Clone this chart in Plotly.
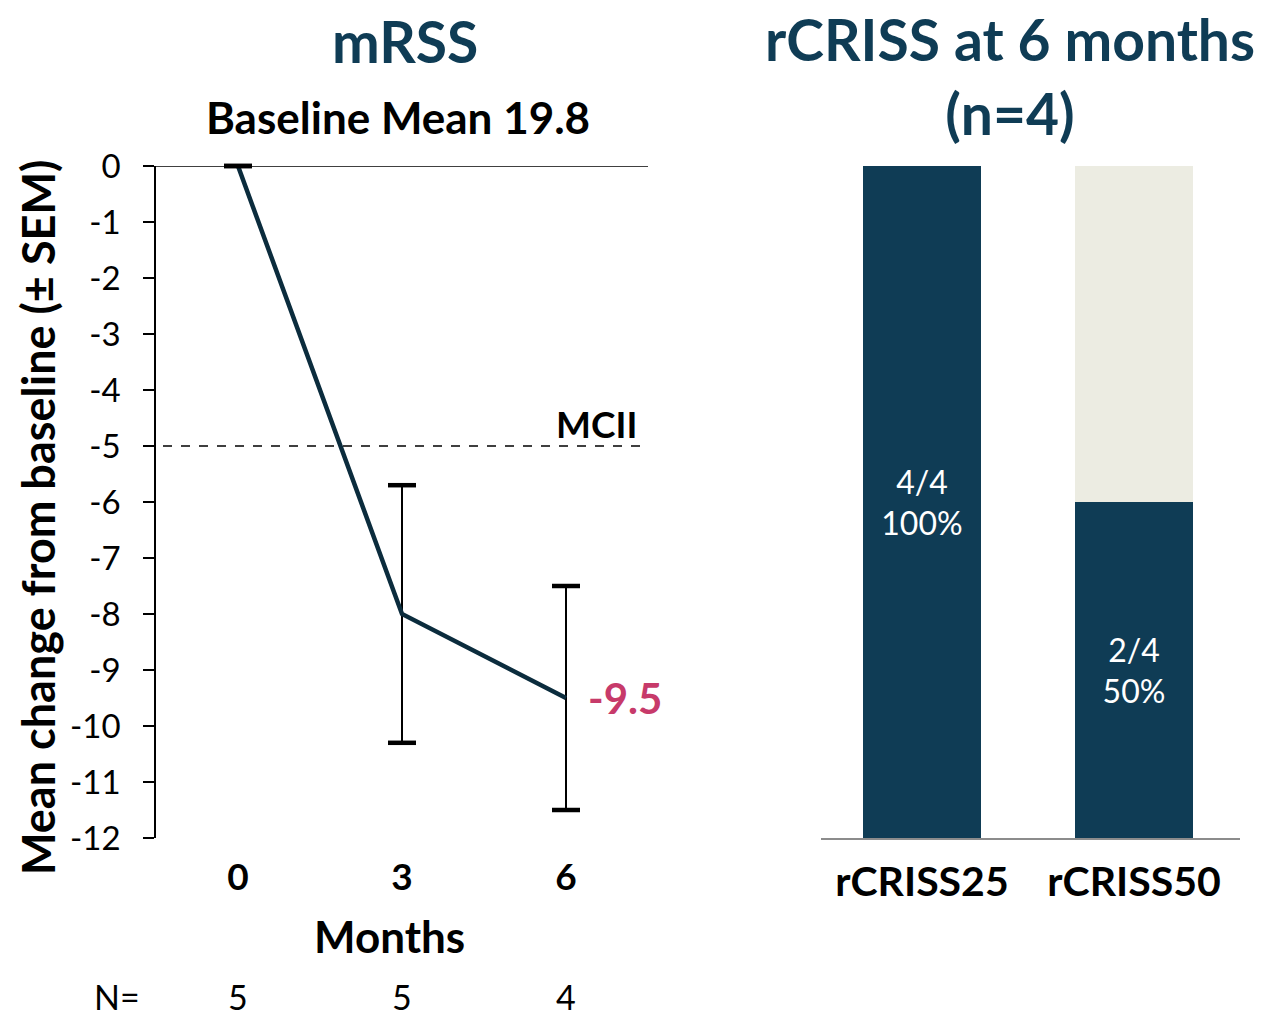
import plotly.graph_objects as go

# ---------------- data ----------------
months = [0, 3, 6]
mrss_change = [0, -8.0, -9.5]
mrss_sem = [0, 2.3, 2.0]
n_counts = ["5", "5", "4"]
mcii = -5
y_ticks = list(range(0, -13, -1))

criss_cats = ["rCRISS25", "rCRISS50"]
criss_pct = [100, 50]
criss_rest = [0, 50]
criss_labels = ["4/4<br>100%", "2/4<br>50%"]

W, H = 1266, 1011
OFF = 8  # page body margin
FONT = "Lato"
DARK = "#0F3C55"
LINE = "#0B2C3D"
PINK = "#C73A6A"

def px_x(p):
    return (p - OFF) / W

def px_y(p):
    return 1 - (p - OFF) / H

fig = go.Figure()

# left: line with error bars
fig.add_trace(go.Scatter(
    x=months, y=mrss_change, mode="lines",
    line=dict(color=LINE, width=4.5),
    error_y=dict(type="data", array=mrss_sem, color="black", thickness=2, width=0),
    xaxis="x", yaxis="y", showlegend=False, hoverinfo="skip"))
# thick error-bar caps
cap_x = months + months
cap_y = [m + s for m, s in zip(mrss_change, mrss_sem)] + [m - s for m, s in zip(mrss_change, mrss_sem)]
fig.add_trace(go.Scatter(
    x=cap_x, y=cap_y, mode="markers",
    marker=dict(symbol="line-ew-open", size=20, color="black",
                line=dict(color="black", width=4.5)),
    xaxis="x", yaxis="y", showlegend=False, hoverinfo="skip", cliponaxis=False))

# right: stacked bars
fig.add_trace(go.Bar(
    x=criss_cats, y=criss_pct, marker=dict(color=DARK, line=dict(width=0)),
    width=0.56, text=criss_labels, textposition="inside", insidetextanchor="middle",
    textangle=0, textfont=dict(color="white", size=32, family=FONT),
    xaxis="x2", yaxis="y2", showlegend=False, hoverinfo="skip"))
fig.add_trace(go.Bar(
    x=criss_cats, y=criss_rest, marker=dict(color="#ECECE2", line=dict(width=0)),
    width=0.56, xaxis="x2", yaxis="y2", showlegend=False, hoverinfo="skip"))

ydom = [px_y(838), px_y(166)]

fig.update_layout(
    width=W, height=H, margin=dict(l=0, r=0, t=0, b=0, autoexpand=False),
    paper_bgcolor="white", plot_bgcolor="white",
    barmode="stack",
    font=dict(family=FONT, color="black"),
    xaxis=dict(domain=[px_x(156), px_x(648)], range=[-1.5, 7.5], automargin=False,
               tickvals=months, ticktext=[str(m) for m in months],
               tickfont=dict(size=37, weight="bold", color="black"),
               ticks="", showline=False, showgrid=False, zeroline=False,
               ticklabelstandoff=14),
    yaxis=dict(domain=ydom, range=[-12, 0], tickvals=y_ticks, automargin=False,
               ticktext=[str(v) for v in y_ticks],
               tickfont=dict(size=33, color="black"),
               ticks="outside", ticklen=11, tickwidth=1.5, tickcolor="black",
               showline=True, linecolor="black", linewidth=1.5,
               showgrid=False, zeroline=False, ticklabelstandoff=16),
    xaxis2=dict(domain=[px_x(821), px_x(1240)], range=[-0.476, 1.5], automargin=False,
                anchor="y2", showline=True, linecolor="#8C8C8C", linewidth=2,
                ticks="", showgrid=False, zeroline=False,
                tickfont=dict(size=41, weight="bold", color="black"),
                ticklabelstandoff=7),
    yaxis2=dict(domain=ydom, range=[0, 100], anchor="x2", visible=False, automargin=False),
)

# zero line and MCII line
fig.add_shape(type="line", xref="paper", yref="y", x0=px_x(145), x1=px_x(648),
              y0=0, y1=0, line=dict(color="black", width=1.5), layer="below")
fig.add_shape(type="line", xref="paper", yref="y", x0=px_x(145), x1=px_x(648),
              y0=mcii, y1=mcii, line=dict(color="black", width=1.3, dash="dash"))

ann = []
ann.append(dict(x=px_x(38), y=px_y(518), xref="paper", yref="paper",
                text="<b>Mean change from baseline (± SEM)</b>", textangle=-90,
                xanchor="center", yanchor="middle", showarrow=False,
                font=dict(size=45, color="black")))
ann.append(dict(x=6.55, y=mcii, xref="x", yref="y", text="<b>MCII</b>", showarrow=False,
                xanchor="center", yanchor="bottom", yshift=-2, font=dict(size=37, color="black")))
ann.append(dict(x=months[-1], y=mrss_change[-1], xref="x", yref="y",
                text="<b>%.1f</b>" % mrss_change[-1], showarrow=False,
                xanchor="left", yanchor="middle", xshift=20, font=dict(size=42, color=PINK)))
ann.append(dict(x=px_x(405), y=px_y(41), xref="paper", yref="paper", text="<b>mRSS</b>",
                xanchor="center", yanchor="middle", borderpad=0,
                showarrow=False, font=dict(size=57, color=DARK)))
ann.append(dict(x=px_x(398), y=px_y(117), xref="paper", yref="paper",
                xanchor="center", yanchor="middle",
                text="<b>Baseline Mean 19.8</b>", showarrow=False,
                font=dict(size=44, color="black")))
ann.append(dict(x=px_x(1010), y=px_y(76), xref="paper", yref="paper",
                xanchor="center", yanchor="middle", borderpad=0,
                text="<b>rCRISS at 6 months<br>(n=4)</b>", showarrow=False,
                font=dict(size=57, color=DARK)))
ann.append(dict(x=px_x(389), y=px_y(936), xref="paper", yref="paper",
                xanchor="center", yanchor="middle",
                text="<b>Months</b>", showarrow=False, font=dict(size=44, color="black")))
ann.append(dict(x=px_x(117), y=px_y(996), xref="paper", yref="paper",
                xanchor="center", yanchor="middle", borderpad=0,
                text="N=", showarrow=False, font=dict(size=34, color="black")))
for m, n in zip(months, n_counts):
    ann.append(dict(x=m, y=px_y(996), xref="x", yref="paper", text=n,
                    xanchor="center", yanchor="middle", borderpad=0,
                    showarrow=False, font=dict(size=34, color="black")))
fig.update_layout(annotations=ann)

fig.write_html("out.html")
